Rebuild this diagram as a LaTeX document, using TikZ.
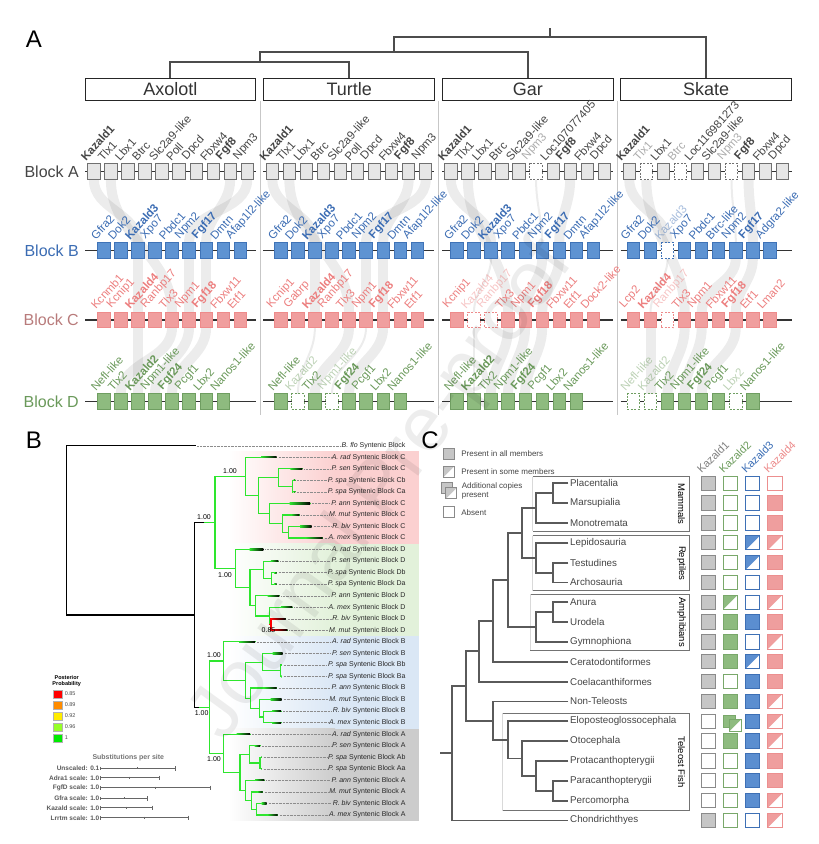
\documentclass[tikz,border=0pt]{standalone}
\usepackage{fontspec}
\setmainfont{Liberation Sans}
\setsansfont{Liberation Sans}
\usetikzlibrary{positioning}

% colours
\definecolor{fillA}{HTML}{E6E6E6}
\definecolor{drawA}{HTML}{707070}
\definecolor{tA}{HTML}{454545}
\definecolor{fillB}{HTML}{5E93D2}
\definecolor{drawB}{HTML}{3F73B7}
\definecolor{tB}{HTML}{3B6CB3}
\definecolor{fillC}{HTML}{F09E9E}
\definecolor{drawC}{HTML}{EE8B8B}
\definecolor{tC}{HTML}{EC7E7E}
\definecolor{blkC}{HTML}{B87B7B}
\definecolor{fillD}{HTML}{8EBB7F}
\definecolor{drawD}{HTML}{6F9E61}
\definecolor{tD}{HTML}{6A995A}
\definecolor{lgreen}{HTML}{2EE62E}
\definecolor{bandC}{HTML}{FBD0D0}
\definecolor{bandD}{HTML}{E2F1DA}
\definecolor{bandB}{HTML}{DAE7F5}
\definecolor{bandA}{HTML}{CCCCCC}
\definecolor{kgfill}{HTML}{C6C6C6}
\definecolor{kgdraw}{HTML}{8A8A8A}
\definecolor{kgtext}{HTML}{7F7F7F}
\definecolor{knfill}{HTML}{8EBB7F}
\definecolor{kndraw}{HTML}{79A86A}
\definecolor{kntext}{HTML}{6C9B5C}
\definecolor{kbfill}{HTML}{5B8ED0}
\definecolor{kbdraw}{HTML}{3E70B5}
\definecolor{kbtext}{HTML}{3A6DB5}
\definecolor{kpfill}{HTML}{EF9E9E}
\definecolor{kpdraw}{HTML}{EC8F8F}
\definecolor{kptext}{HTML}{EC8A8A}
\definecolor{ctreecol}{HTML}{5A5A5A}
\definecolor{ctext}{HTML}{444444}

\pgfdeclarelayer{ribbons}
\pgfsetlayers{ribbons,main}

\tikzset{
  panel/.style={font=\fontsize{24}{24}\selectfont, inner sep=0pt},
  spbox/.style={draw=black!85, line width=1.1pt, minimum width=170.7pt,
    minimum height=22.4pt, inner sep=0pt, font=\fontsize{18}{18}\selectfont, text=black!80},
  toptree/.style={draw=black!70, line width=2pt},
  sepline/.style={draw=black!22, line width=0.6pt},
  blocklab/.style={anchor=east, inner sep=0pt, font=\fontsize{16}{16}\selectfont},
  backbone/.style={draw=black!80, line width=1.2pt},
  gbox/.style={rectangle, minimum width=12.3pt, minimum height=15.6pt,
    inner sep=0pt, outer sep=0pt, line width=0.9pt},
  boxn/.style={}, boxb/.style={},
  boxd/.style={fill=white, dash pattern=on 2pt off 1.5pt},
  rowA/.style={fill=fillA, draw=drawA}, rowB/.style={fill=fillB, draw=drawB},
  rowC/.style={fill=fillC, draw=drawC}, rowD/.style={fill=fillD, draw=drawD},
  txtA/.style={text=tA}, txtB/.style={text=tB}, txtC/.style={text=tC}, txtD/.style={text=tD},
  glab/.style={rotate=48, anchor=south west, inner sep=0.3pt, font=\fontsize{11.5}{12}\selectfont},
  labn/.style={}, labb/.style={font=\fontsize{11.5}{12}\selectfont\bfseries},
  labd/.style={text opacity=0.45},
  ribbon/.style={draw=black, draw opacity=0.075, line width=10pt},
  slim/.style={line width=2pt},
  % panel B
  btree/.style={draw=black, line width=1.3pt, line cap=rect},
  gtree/.style={draw=lgreen, line width=1.2pt, line cap=rect},
  rtree/.style={draw=red, line width=1.2pt, line cap=rect},
  tlabel/.style={anchor=east, inner sep=1pt, font=\fontsize{7}{8}\selectfont, text=black!85},
  leader/.style={draw=black!45, line width=0.4pt, densely dotted},
  bval/.style={inner sep=0pt, font=\fontsize{7}{8}\selectfont},
  ppbox/.style={draw=black!30, line width=0.4pt, minimum size=8.3pt, inner sep=0pt},
  pptext/.style={inner sep=0pt, font=\fontsize{5.5}{6}\selectfont, text=black!70},
  scalehead/.style={inner sep=0pt, font=\fontsize{7}{8}\selectfont\bfseries, text=black!55},
  scalelab/.style={anchor=east, inner sep=0.5pt, font=\fontsize{6.5}{7}\selectfont\bfseries, text=black!65},
  scalebar/.style={draw=black!60, line width=0.7pt},
  % panel C
  ctree/.style={draw=ctreecol, line width=1.8pt},
  ctaxon/.style={anchor=west, inner sep=0.5pt, font=\fontsize{9.8}{10}\selectfont, text=ctext},
  mcell/.style={rectangle, minimum size=14.3pt, inner sep=0pt, outer sep=0pt, line width=1pt},
  khead/.style={rotate=45, anchor=south west, inner sep=0.5pt, font=\fontsize{11}{11}\selectfont},
  ltext/.style={anchor=west, inner sep=0pt, font=\fontsize{8}{9}\selectfont, text=ctext, align=left},
  grpline/.style={draw=black!55, line width=0.9pt},
  grpfade/.style={draw=black!15, line width=0.9pt},
  grplab/.style={rotate=-90, inner sep=0pt, font=\fontsize{9.5}{10}\selectfont},
}

% one row of gene boxes with their rotated names
\newcommand{\generow}[5]{%
  \foreach \g/\t [count=\i] in {#5}{%
    \node[gbox, row#4, box\t] (#1#4\i) at ({#2+(\i-1)*17.05},#3) {};
    \node[glab, txt#4, lab\t] (l#1#4\i) at ([xshift=-1.5pt,yshift=1.5pt]#1#4\i.north west) {\g};
  }}

% inner branch of the synteny tree
\newcommand{\gnode}[5]{\draw[gtree] (#1,#3) -- (#2,#3) (#2,#4) -- (#2,#5);}

% a branch of the tree of panel C
\newcommand{\cn}[5]{\draw[ctree] (#4,#2) -| (#1,#3) -- (#5,#3);}

% a cell of the presence matrix
\newcommand{\kcell}[6][]{%
  \if#2F\node[mcell, #1, fill=#3fill, draw=#3draw] (#6) at (#4,#5) {};\fi
  \if#2E\node[mcell, #1, fill=white, draw=#3draw] (#6) at (#4,#5) {};\fi
  \if#2H\node[mcell, #1, fill=white, draw=#3draw] (#6) at (#4,#5) {};
    \fill[#3fill] (#6.north west) -- (#6.south west) -- (#6.north east) -- cycle;
    \draw[#3draw, line width=1pt] (#6.north west) rectangle (#6.south east);\fi
  \if#2A\node[mcell, #1, minimum size=12pt, fill=#3fill, draw=#3draw] (#6) at (#4-1,#5) {};
    \node[mcell, #1, minimum size=12pt, fill=white, draw=#3draw] (#6b) at (#4+5,#5+4) {};
    \fill[#3fill] (#6b.north west) -- (#6b.south west) -- (#6b.north east) -- cycle;
    \draw[#3draw, line width=1pt] (#6b.north west) rectangle (#6b.south east);\fi
}

\begin{document}
\begin{tikzpicture}[x=1pt,y=-1pt]
\useasboundingbox (0,0) rectangle (819,844);

% ---------------- Panel A ----------------
\node[panel] (pA) at (34,39) {A};

\node[spbox] (axolotl) at (170.4,89.5) {Axolotl};
\node[spbox] (turtle) at (349.2,89.5) {Turtle};
\node[spbox] (gar) at (527.8,89.5) {Gar};
\node[spbox] (skate) at (706.2,89.5) {Skate};

\draw[toptree] (axolotl.north) -- ++(0,-16) -| (turtle.north);
\draw[toptree] (259.8,62.3) -- (259.8,52.3) -| (gar.north);
\draw[toptree] (393.8,52.3) -- (393.8,37.3) -| (skate.north);
\draw[toptree] (550,37.3) -- (550,28.3);

\foreach \xs in {260.3,438.7,616.9}
  \draw[sepline] (\xs,100.7) -- (\xs,415);

\node[blocklab, text=tA] (blkA) at (79,171.7) {Block A};
\node[blocklab, text=tB] (blkB) at (79,250.7) {Block B};
\node[blocklab, text=blkC] (blkC) at (79,320) {Block C};
\node[blocklab, text=tD] (blkD) at (79,401.7) {Block D};

\foreach \xz in {85,263.3,442.3,620.7}
  \foreach \yy in {171.7,250.7,320,401.7}
    \draw[backbone] (\xz,\yy) -- ({\xz+171},\yy);

% Axolotl
\generow{ax}{93.8}{171.7}{A}{Kazald1/b, Tlx1/n, Lbx1/n, Btrc/n, Slc2a9-like/n, Poll/n, Dpcd/n, Fbxw4/n, Fgf8/b, Npm3/n}
\generow{ax}{103.8}{250.7}{B}{Gfra2/n, Dok2/n, Kazald3/b, Xpo7/n, Pbdc1/n, Npm2/n, Fgf17/b, Dmtn/n, Afap1l2-like/n}
\generow{ax}{103.8}{320}{C}{Kcnmb1/n, Kcnip1/n, Kazald4/b, Ranbp17/n, Tlx3/n, Npm1/n, Fgf18/b, Fbxw11/n, Etf1/n}
\generow{ax}{103.8}{401.7}{D}{Nefl-like/n, Tlx2/n, Kazald2/b, Npm1-like/n, Fgf24/b, Pcgf1/n, Lbx2/n, Nanos1-like/n}
% Turtle
\generow{tu}{272.3}{171.7}{A}{Kazald1/b, Tlx1/n, Lbx1/n, Btrc/n, Slc2a9-like/n, Poll/n, Dpcd/n, Fbxw4/n, Fgf8/b, Npm3/n}
\generow{tu}{280.8}{250.7}{B}{Gfra2/n, Dok2/n, Kazald3/b, Xpo7/n, Pbdc1/n, Npm2/n, Fgf17/b, Dmtn/n, Afap1l2-like/n}
\generow{tu}{280.8}{320}{C}{Kcnip1/n, Gabrp/n, Kazald4/b, Ranbp17/n, Tlx3/n, Npm1/n, Fgf18/b, Fbxw11/n, Etf1/n}
\generow{tu}{280.8}{401.7}{D}{Nefl-like/n, Kazald2/d, Tlx2/n, Npm1-like/d, Fgf24/b, Pcgf1/n, Lbx2/n, Nanos1-like/n}
% Gar
\generow{ga}{450.8}{171.7}{A}{Kazald1/b, Tlx1/n, Lbx1/n, Btrc/n, Slc2a9-like/n, Npm3/d, Loc107077405/n, Fgf8/b, Fbxw4/n, Dpcd/n}
\generow{ga}{456.9}{250.7}{B}{Gfra2/n, Dok2/n, Kazald3/b, Xpo7/n, Pbdc1/n, Npm2/n, Fgf17/b, Dmtn/n, Afap1l2-like/n}
\generow{ga}{456.9}{320}{C}{Kcnip1/n, Kazald4/d, Ranbp17/d, Tlx3/n, Npm1/n, Fgf18/b, Fbxw11/n, Etf1/n, Dock2-like/n}
\generow{ga}{456.9}{401.7}{D}{Nefl-like/n, Kazald2/b, Tlx2/n, Npm1-like/n, Fgf24/b, Pcgf1/n, Lbx2/n, Nanos1-like/n}
% Skate
\generow{sk}{629.2}{171.7}{A}{Kazald1/b, Tlx1/d, Lbx1/n, Btrc/d, Loc116981273/n, Slc2a9-like/n, Npm3/d, Fgf8/b, Fbxw4/n, Dpcd/n}
\generow{sk}{633.5}{250.7}{B}{Gfra2/n, Dok2/n, Kazald3/d, Xpo7/n, Pbdc1/n, Btrc-like/n, Npm2/n, Fgf17/b, Adgra2-like/n}
\generow{sk}{633.5}{320}{C}{Lcp2/n, Kazald4/b, Ranbp17/d, Tlx3/n, Npm1/n, Fbxw11/n, Fgf18/b, Etf1/n, Lman2/n}
\generow{sk}{633.5}{401.7}{D}{Nefl-like/d, Kazald2/d, Tlx2/n, Npm1-like/n, Fgf24/b, Pcgf1/n, Lbx2/d, Nanos1-like/n}

% homology ribbons
\begin{pgfonlayer}{ribbons}
\foreach \a/\b in {axA1/axB3, axB3/axC3, axC3/axD3, axA2/axC5, axC5/axD2, axA9/axB7, axB7/axC7,
    axC7/axD5, axA10/axB6, axB6/axC6, axC6/axD4,
    tuA1/tuB3, tuB3/tuC3, tuA2/tuC5, tuC5/tuD3, tuA9/tuB7, tuB7/tuC7, tuC7/tuD5, tuA10/tuB6, tuB6/tuC6,
    gaA1/gaB3, gaA2/gaC4, gaC4/gaD3, gaB6/gaC5, gaC5/gaD4, gaA8/gaB7, gaB7/gaC6, gaC6/gaD5,
    skA1/skB3, skC2/skD2, skA2/skC4, skC4/skD3, skB7/skC5, skC5/skD4, skA8/skB8, skB8/skC7, skC7/skD5}
  \draw[ribbon] (\a.south) to[out=-90,in=90] (\b.north);
\foreach \a/\b in {tuC3/tuD2, tuC6/tuD4, gaB3/gaC2, gaC2/gaD2, gaA6/gaB6, skA7/skB7, skB3/skC2}
  \draw[ribbon, slim] (\a.south) to[out=-90,in=90] (\b.north);
\end{pgfonlayer}

% ---------------- Panel B ----------------
\node[panel] (pB) at (34,440) {B};

% clade bands
\shade[left color=white, right color=bandC] (228,451.4) rectangle (335,543.8);
\fill[bandC] (335,451.4) rectangle (419,543.8);
\shade[left color=white, right color=bandD] (228,543.8) rectangle (335,636.1);
\fill[bandD] (335,543.8) rectangle (419,636.1);
\shade[left color=white, right color=bandB] (228,636.1) rectangle (335,728.5);
\fill[bandB] (335,636.1) rectangle (419,728.5);
\shade[left color=white, right color=bandA] (228,728.5) rectangle (335,820.8);
\fill[bandA] (335,728.5) rectangle (419,820.8);

% backbone of the tree
\draw[btree] (195,445.7) -- (66.7,445.7) -- (66.7,614.9) -- (194.3,614.9);
\draw[btree] (205,522.5) -- (194.3,522.5) -- (194.3,707.2) -- (200,707.2);

\gnode{205}{215}{522.5}{476.4}{568.7}
\gnode{215}{245.7}{476.4}{457.2}{495.5}
\gnode{245.7}{258.3}{495.5}{477.4}{513.5}
\gnode{258.3}{278.3}{477.4}{468.8}{486.1}
\gnode{278.3}{292.3}{486.1}{480.3}{491.9}
\gnode{258.3}{269.3}{513.5}{503.4}{523.6}
\gnode{269.3}{282.7}{523.6}{515}{532.3}
\gnode{282.7}{288.3}{532.3}{526.5}{538}
\gnode{215}{235.7}{568.7}{549.6}{587.8}
\gnode{235.7}{250}{587.8}{569.8}{605.8}
\gnode{250}{263.3}{569.8}{561.1}{578.4}
\gnode{263.3}{271.7}{578.4}{572.6}{584.2}
\gnode{250}{255.7}{605.8}{595.7}{616}
\gnode{255.7}{269.3}{616}{607.3}{624.6}
\gnode{200}{209.3}{707.2}{661}{753.3}
\gnode{209.3}{223.3}{661}{641.9}{680.1}
\gnode{223.3}{245.7}{680.1}{662.1}{698.1}
\gnode{245.7}{262.3}{662.1}{653.4}{670.8}
\gnode{262.3}{280.7}{670.8}{665}{676.5}
\gnode{245.7}{250.7}{698.1}{688}{708.3}
\gnode{250.7}{259.3}{708.3}{699.6}{716.9}
\gnode{259.3}{263.3}{716.9}{711.1}{722.7}
\gnode{209.3}{223.3}{753.3}{734.2}{772.4}
\gnode{223.3}{240}{772.4}{754.4}{790.5}
\gnode{240}{249.3}{754.4}{745.7}{763}
\gnode{249.3}{260}{763}{757.3}{768.8}
\gnode{240}{245.7}{790.5}{780.4}{800.6}
\gnode{245.7}{251.7}{800.6}{791.9}{809.2}
\gnode{251.7}{256.7}{809.2}{803.4}{815}

% tips and their labels
\node[tlabel] (tl0) at (406.7,445.7) {\textit{B. flo} Syntenic Block};
\draw[leader] (197,445.7) -- (tl0.west);
\foreach \sp/\bk/\nx/\tx [count=\i] in {
    A. rad/C/245.7/276.7, P. sen/C/278.3/302.3, P. spa/Cb/292.3/295, P. spa/Ca/292.3/295,
    P. ann/C/269.3/310, M. mut/C/282.7/299.3, R. biv/C/288.3/311.7, A. mex/C/288.3/322.7,
    A. rad/D/235.7/263.3, P. sen/D/263.3/278.3, P. spa/Db/271.7/276.7, P. spa/Da/271.7/276.7,
    P. ann/D/255.7/279.3, A. mex/D/269.3/292.3, R. biv/D/271/285.7, M. mut/D/271/287.3,
    A. rad/B/223.3/255, P. sen/B/262.3/282.7, P. spa/Bb/280.7/281.7, P. spa/Ba/280.7/281.7,
    P. ann/B/250.7/276.7, M. mut/B/259.3/281.7, R. biv/B/263.3/281, A. mex/B/263.3/281,
    A. rad/A/223.3/250, P. sen/A/249.3/260, P. spa/Ab/260/261.7, P. spa/Aa/260/261.7,
    P. ann/A/245.7/264.3, M. mut/A/251.7/262.7, R. biv/A/256.7/266.7, A. mex/A/256.7/277.7}{
  \pgfmathsetmacro{\yy}{445.7+11.54*\i}
  \draw[gtree] (\nx,\yy) -- (\tx,\yy);
  \shade[left color=lgreen, right color=black] ({(\nx+\tx)/2},\yy-0.6) rectangle (\tx,\yy+0.6);
  \node[tlabel] (tl\i) at (406.7,\yy) {\textit{\sp} Syntenic Block \bk};
  \draw[leader] (\tx+2,\yy) -- (tl\i.west);
}
% the one weak node
\draw[rtree] (269.3,624.6) -- (271,624.6) (271,618.8) -- (271,630.3);
\shade[left color=red, right color=black] (271,618.2) rectangle (285.7,619.4);
\shade[left color=red, right color=black] (271,629.7) rectangle (287.3,630.9);
\node[bval] (pp085) at (268.5,630) {0.85};

\node[bval] (bv1) at (230,471.5) {1.00};
\node[bval] (bv2) at (204,517.5) {1.00};
\node[bval] (bv3) at (225,575.5) {1.00};
\node[bval] (bv4) at (214,655.5) {1.00};
\node[bval] (bv5) at (201.7,713.5) {1.00};
\node[bval] (bv6) at (214,759.5) {1.00};

% posterior legend
\node[inner sep=0pt, align=center, font=\fontsize{5.5}{6}\selectfont\bfseries] (pplab) at (66.7,681.5) {Posterior\\Probability};
\foreach \c/\v [count=\i from 0] in {red/0.85, {rgb,255:red,255;green,140;blue,0}/0.89,
    {rgb,255:red,255;green,236;blue,0}/0.92, {rgb,255:red,150;green,255;blue,40}/0.96,
    {rgb,255:red,0;green,235;blue,0}/1}{
  \node[ppbox, fill=\c] (ppb\i) at (57.7,{694+11*\i}) {};
  \node[pptext, right=2.5pt of ppb\i] (ppt\i) {\v};
}

% scale bars
\node[scalehead] (subs) at (128.3,757.3) {Substitutions per site};
\foreach \lab/\len/\yy [count=\i] in {Unscaled: 0.1/175/768.3, Adra1 scale: 1.0/159/777.7,
    FgfD scale: 1.0/210.7/787.7, Gfra scale: 1.0/147.7/798.3,
    Kazald scale: 1.0/152/807.7, Lrrtm scale: 1.0/188.3/817.7}{
  \node[scalelab] (sl\i) at (100,\yy) {\lab};
  \draw[scalebar] (100.5,\yy) -- (\len,\yy);
  \draw[scalebar] (100.5,\yy-1.8) -- (100.5,\yy+1.8) (\len,\yy-2.2) -- (\len,\yy+2.2)
    ({(100.5+\len)/2},\yy-1) -- ({(100.5+\len)/2},\yy+1);
}

% ---------------- Panel C ----------------
\node[panel] (pC) at (430,440) {C};

% legend
\kcell[minimum size=10.7pt]{F}{kg}{448.8}{453.8}{lg1}
\node[ltext, right=7pt of lg1] (lt1) {Present in all members};
\kcell[minimum size=10.7pt]{H}{kg}{448.8}{471.8}{lg2}
\node[ltext, right=7pt of lg2] (lt2) {Present in some members};
\node[mcell, minimum size=10.7pt, fill=kgfill, draw=kgdraw] (lg3) at (446.8,488.3) {};
\kcell[minimum size=10.7pt]{H}{kg}{451.3}{493.3}{lg3b}
\node[ltext] (lt3) at (461.7,491) {Additional copies\\present};
\kcell[minimum size=10.7pt]{E}{kg}{448.8}{512.3}{lg4}
\node[ltext, right=7pt of lg4] (lt4) {Absent};

% clade boxes
\foreach \x/\ya/\yb/\lab [count=\i] in {532.7/476.7/531/Mammals, 532.7/535.7/590.7/Reptiles,
    530/594.3/650/Amphibians, 502.7/713.3/810.7/Teleost Fish}{
  \draw[grpline] (\x,\ya) -- (689.3,\ya) -- (689.3,\yb) -- (\x,\yb);
  \draw[grpfade] (\x,\ya) -- (\x,\yb);
  \node[grplab] (grp\i) at (681.5,{(\ya+\yb)/2}) {\lab};
}

% taxa
\foreach \tx [count=\i from 0] in {Placentalia, Marsupialia, Monotremata, Lepidosauria,
    Testudines, Archosauria, Anura, Urodela, Gymnophiona, Ceratodontiformes,
    Coelacanthiformes, Non-Teleosts, Eloposteoglossocephala, Otocephala,
    Protacanthopterygii, Paracanthopterygii, Percomorpha, Chondrichthyes}
  \node[ctaxon] (ct\i) at (569.5,{483.3+19.83*\i}) {\tx};

% vertebrate tree
\cn{552.7}{483.3}{503.1}{568.3}{568.3}
\cn{536}{493.2}{523.0}{552.7}{568.3}
\cn{552.7}{562.6}{582.5}{568.3}{568.3}
\cn{536}{542.8}{572.6}{568.3}{552.7}
\cn{521.7}{508.1}{557.7}{536}{536}
\cn{552.7}{602.3}{622.1}{568.3}{568.3}
\cn{536}{612.2}{641.9}{552.7}{568.3}
\cn{507.7}{532.9}{627.1}{521.7}{536}
\cn{493.3}{580}{661.8}{507.7}{568.3}
\cn{479.3}{620.9}{681.6}{493.3}{568.3}
\cn{552.7}{780.8}{800.6}{568.3}{568.3}
\cn{536}{760.9}{790.7}{568.3}{552.7}
\cn{521.7}{741.1}{775.8}{568.3}{536}
\cn{507.7}{721.3}{758.5}{568.3}{521.7}
\cn{493.3}{701.4}{739.9}{568.3}{507.7}
\cn{466}{651.3}{720.7}{479.3}{493.3}
\cn{452.3}{686}{820.4}{466}{568.3}
\draw[ctree] (440,753.2) -- (452.3,753.2);

% gene columns
\foreach \h/\c/\x in {Kazald1/kgtext/708.3, Kazald2/kntext/730.3, Kazald3/kbtext/752.7, Kazald4/kptext/775}
  \node[khead, text=\c] (head\h) at (\x-6.5,475) {\h};

\foreach \ka/\kb/\kc/\kd [count=\i from 0] in {F/E/E/E, F/E/E/F, F/E/E/F, F/E/H/H, F/E/H/F,
    F/E/E/F, F/H/E/H, F/F/F/F, F/F/E/H, F/F/H/F, F/E/F/F, F/F/F/H, E/A/F/H, E/F/F/H,
    E/E/F/F, E/E/F/F, E/E/F/H, F/E/E/H}{
  \pgfmathsetmacro{\yy}{483.3+19.83*\i}
  \kcell{\ka}{kg}{708.3}{\yy}{ma\i}
  \kcell{\kb}{kn}{730.3}{\yy}{mb\i}
  \kcell{\kc}{kb}{752.7}{\yy}{mc\i}
  \kcell{\kd}{kp}{775}{\yy}{md\i}
}

% watermark
\node[rotate=54, text=black, opacity=0.07, inner sep=0pt, font=\fontsize{77}{77}\selectfont] (wm) at (383,491) {Journal Pre-proof};
\end{tikzpicture}
\end{document}
